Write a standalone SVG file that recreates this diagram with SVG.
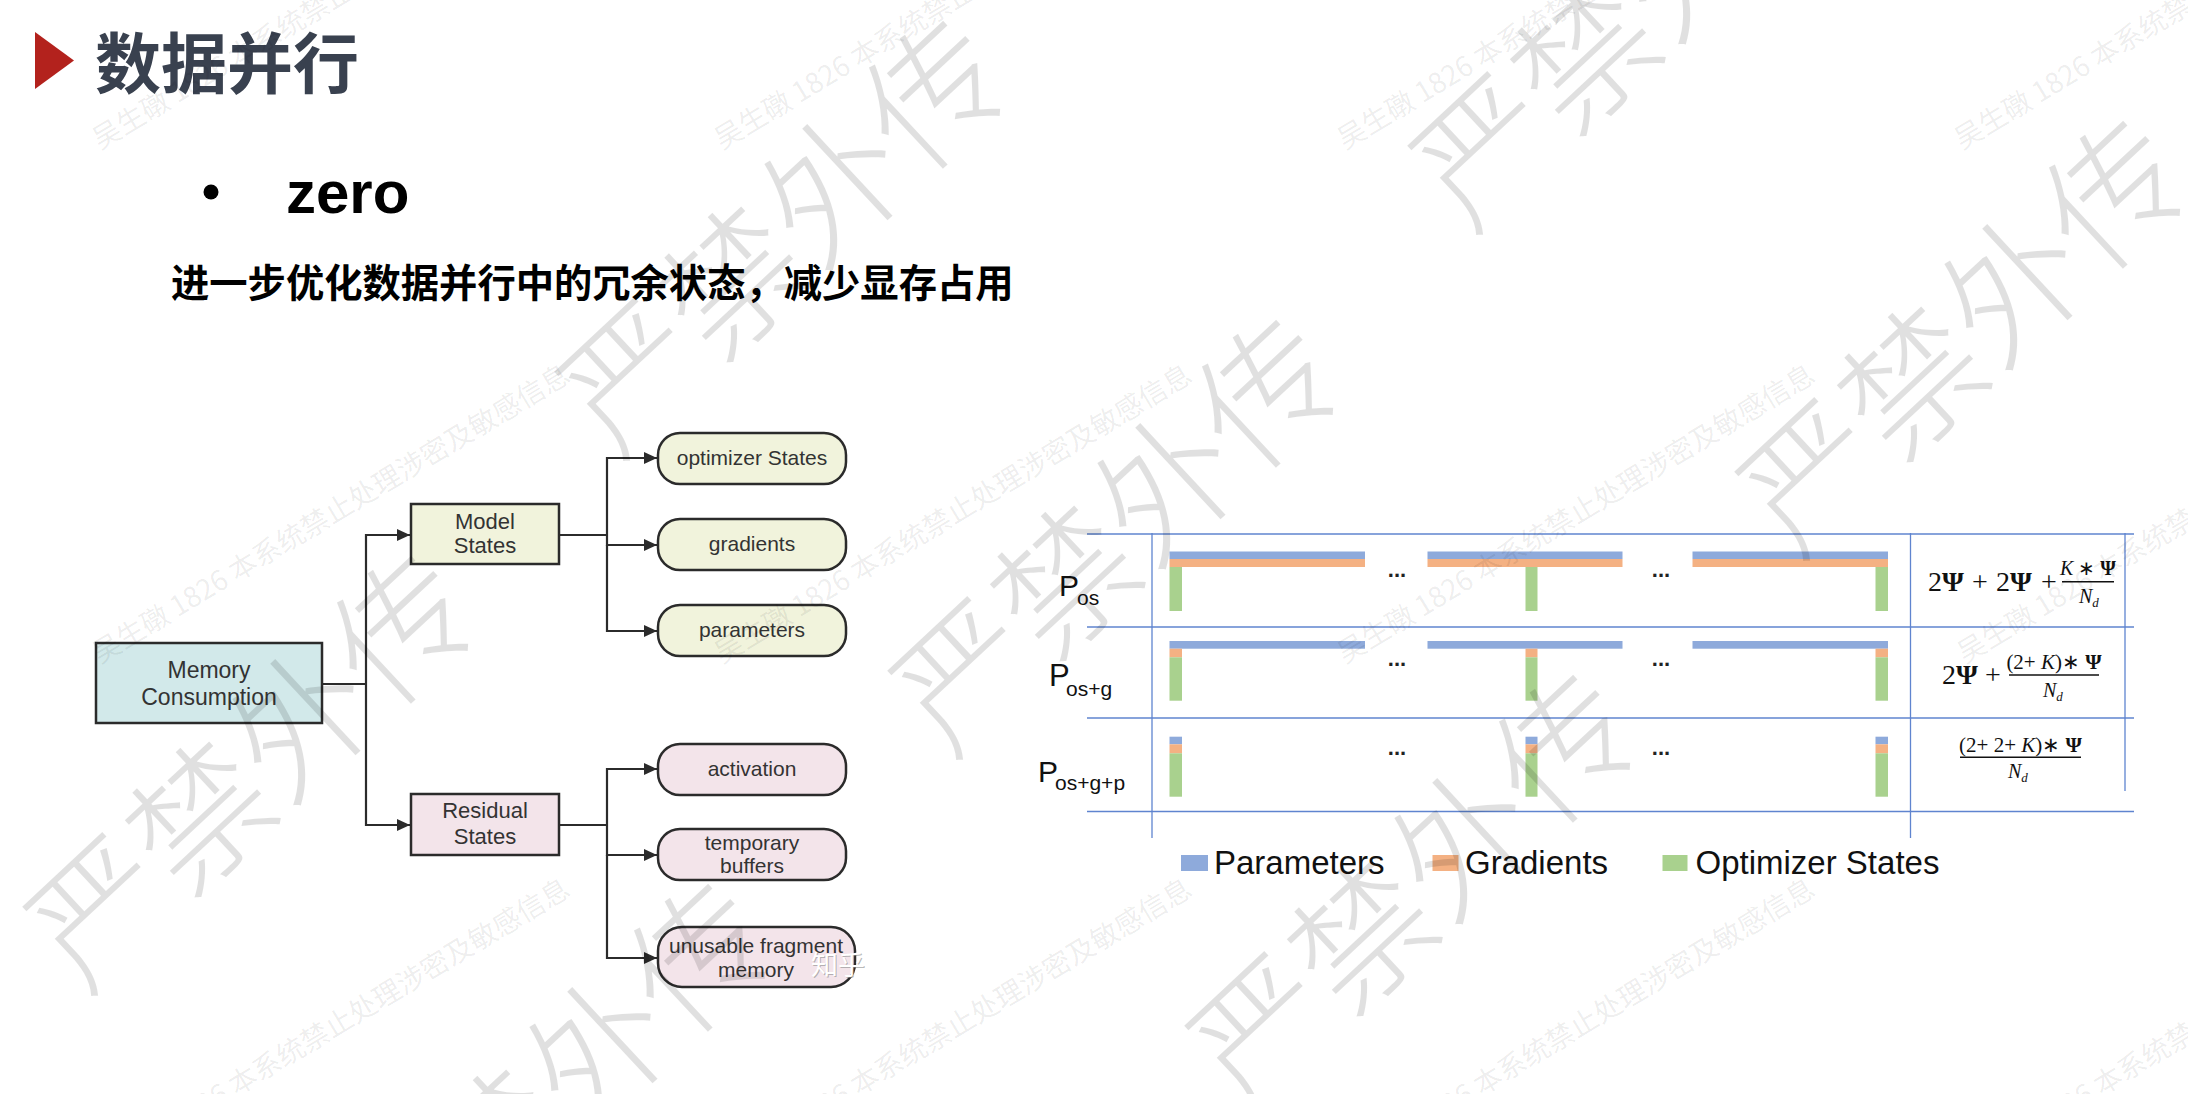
<svg xmlns="http://www.w3.org/2000/svg" width="2188" height="1094" viewBox="0 0 2188 1094">
  <defs>
    <marker id="arrow" markerUnits="userSpaceOnUse" markerWidth="13" markerHeight="12" refX="13" refY="6" orient="auto">
      <path d="M0,0 L13,6 L0,12 z" fill="#2b2b2b"/>
    </marker>
    <style>
      .cjk { font-family: "Noto Sans CJK SC", "Noto Sans", sans-serif; }
      .node rect { stroke: #2b2b2b; stroke-width: 2.5; }
      .lbl { font-family: "Liberation Sans", Arial, sans-serif; fill: #333; text-anchor: middle; }
      .conn path { fill: none; stroke: #2b2b2b; stroke-width: 2.2; }
      .grid line { stroke: #5f84cf; stroke-width: 1.3; }
      .par { fill: #8eaadb; }
      .grd { fill: #f4b183; }
      .opt { fill: #a9d18e; }
      .plab { font-family: "Liberation Sans", Arial, sans-serif; fill: #111; }
      .dots { font-family: "Liberation Sans", Arial, sans-serif; font-weight: bold; font-size: 22px; fill: #222; text-anchor: middle; }
      .math { font-family: "Liberation Serif", "Times New Roman", serif; fill: #111; }
      .leg { font-family: "Liberation Sans", Arial, sans-serif; font-size: 33px; fill: #111; }
      .wm-big { font-family: "Noto Sans CJK SC", sans-serif; font-size: 138px; font-weight: 200; fill: #000; fill-opacity: 0.12; }
      .wm-small { font-family: "Noto Sans CJK SC", sans-serif; font-size: 28px; fill: #000; fill-opacity: 0.08; }
    </style>
  </defs>

  <rect width="2188" height="1094" fill="#ffffff"/>

  <!-- heading -->
  <g id="heading">
    <polygon points="35,32 74,60.5 35,89" fill="#b3221d"/>
    <text class="cjk" x="95" y="88" font-size="66" font-weight="bold" fill="#39414f">数据并行</text>
    <circle cx="211" cy="192" r="7.5" fill="#000"/>
    <text x="286" y="213" font-family="Liberation Sans, Arial, sans-serif" font-size="60" font-weight="bold" fill="#000">zero</text>
    <text class="cjk" x="171" y="297" font-size="38.3" font-weight="bold" fill="#000">进一步优化数据并行中的冗余状态，减少显存占用</text>
  </g>

  <!-- memory tree: connectors -->
  <g id="connectors" class="conn">
    <path d="M322,684 H366"/>
    <path d="M366,684 V535 H410" marker-end="url(#arrow)"/>
    <path d="M366,684 V825 H410" marker-end="url(#arrow)"/>
    <path d="M559,535 H607"/>
    <path d="M607,535 V458 H657" marker-end="url(#arrow)"/>
    <path d="M607,535 V545 H657" marker-end="url(#arrow)"/>
    <path d="M607,545 V631 H657" marker-end="url(#arrow)"/>
    <path d="M559,825 H607"/>
    <path d="M607,825 V769 H657" marker-end="url(#arrow)"/>
    <path d="M607,825 V855 H657" marker-end="url(#arrow)"/>
    <path d="M607,855 V958 H657" marker-end="url(#arrow)"/>
  </g>

  <!-- memory tree: nodes -->
  <g id="memory-consumption" class="node">
    <rect x="96" y="643" width="226" height="80" fill="#d2e9ea"/>
    <text class="lbl" x="209" y="678" font-size="23">Memory</text>
    <text class="lbl" x="209" y="705" font-size="23">Consumption</text>
  </g>
  <g id="model-states" class="node">
    <rect x="411" y="504" width="148" height="60" fill="#f1f3dc"/>
    <text class="lbl" x="485" y="529" font-size="22">Model</text>
    <text class="lbl" x="485" y="553" font-size="22">States</text>
  </g>
  <g id="residual-states" class="node">
    <rect x="411" y="794" width="148" height="61" fill="#f3e4ea"/>
    <text class="lbl" x="485" y="818" font-size="22">Residual</text>
    <text class="lbl" x="485" y="844" font-size="22">States</text>
  </g>
  <g id="optimizer-states" class="node">
    <rect x="658" y="433" width="188" height="51" rx="22" fill="#f1f3dc"/>
    <text class="lbl" x="752" y="465" font-size="21">optimizer States</text>
  </g>
  <g id="gradients" class="node">
    <rect x="658" y="519" width="188" height="51" rx="22" fill="#f1f3dc"/>
    <text class="lbl" x="752" y="551" font-size="21">gradients</text>
  </g>
  <g id="parameters" class="node">
    <rect x="658" y="605" width="188" height="51" rx="22" fill="#f1f3dc"/>
    <text class="lbl" x="752" y="637" font-size="21">parameters</text>
  </g>
  <g id="activation" class="node">
    <rect x="658" y="744" width="188" height="51" rx="22" fill="#f3e4ea"/>
    <text class="lbl" x="752" y="776" font-size="21">activation</text>
  </g>
  <g id="temporary-buffers" class="node">
    <rect x="658" y="829" width="188" height="51" rx="22" fill="#f3e4ea"/>
    <text class="lbl" x="752" y="850" font-size="21">temporary</text>
    <text class="lbl" x="752" y="873" font-size="21">buffers</text>
  </g>
  <g id="unusable-fragment-memory" class="node">
    <rect x="658" y="927" width="197" height="60" rx="24" fill="#f3e4ea"/>
    <text class="lbl" x="756" y="953" font-size="21">unusable fragment</text>
    <text class="lbl" x="756" y="977" font-size="21">memory</text>
  </g>
  <g id="zhihu-mark">
    <text class="cjk" x="838" y="975" font-size="27" text-anchor="middle" fill="#8a8a8a" fill-opacity="0.6" transform="translate(1,1)">知乎</text>
    <text class="cjk" x="838" y="975" font-size="27" text-anchor="middle" fill="#ffffff">知乎</text>
  </g>

  <!-- ZeRO partition table -->
  <g id="table-grid" class="grid">
    <line x1="1087" y1="534" x2="2134" y2="534"/>
    <line x1="1087" y1="627" x2="2134" y2="627"/>
    <line x1="1087" y1="718" x2="2134" y2="718"/>
    <line x1="1087" y1="811.5" x2="2134" y2="811.5"/>
    <line x1="1152" y1="533" x2="1152" y2="838"/>
    <line x1="1910.5" y1="533" x2="1910.5" y2="838"/>
    <line x1="2125" y1="533" x2="2125" y2="791"/>
  </g>

  <g id="row-pos">
    <text class="plab" x="1059" y="596" font-size="30">P</text>
    <text class="plab" x="1077" y="605" font-size="21">os</text>
    <rect class="par" x="1169.5" y="551.5" width="195.5" height="7.5"/>
    <rect class="grd" x="1169.5" y="559" width="195.5" height="8"/>
    <rect class="par" x="1427.5" y="551.5" width="195" height="7.5"/>
    <rect class="grd" x="1427.5" y="559" width="195" height="8"/>
    <rect class="par" x="1692.5" y="551.5" width="195.5" height="7.5"/>
    <rect class="grd" x="1692.5" y="559" width="195.5" height="8"/>
    <rect class="opt" x="1169.5" y="567" width="12.5" height="44"/>
    <rect class="opt" x="1525.5" y="567" width="12" height="44"/>
    <rect class="opt" x="1875.5" y="567" width="12.5" height="44"/>
    <text class="dots" x="1397" y="577">...</text>
    <text class="dots" x="1661" y="577">...</text>
  </g>

  <g id="row-pos-g">
    <text class="plab" x="1049" y="686" font-size="31">P</text>
    <text class="plab" x="1066" y="696" font-size="21">os+g</text>
    <rect class="par" x="1169.5" y="641" width="195.5" height="7.7"/>
    <rect class="par" x="1427.5" y="641" width="195" height="7.7"/>
    <rect class="par" x="1692.5" y="641" width="195.5" height="7.7"/>
    <rect class="grd" x="1169.5" y="648.7" width="12.5" height="8.6"/>
    <rect class="grd" x="1525.5" y="648.7" width="12" height="8.6"/>
    <rect class="grd" x="1875.5" y="648.7" width="12.5" height="8.6"/>
    <rect class="opt" x="1169.5" y="657.3" width="12.5" height="43.4"/>
    <rect class="opt" x="1525.5" y="657.3" width="12" height="43.4"/>
    <rect class="opt" x="1875.5" y="657.3" width="12.5" height="43.4"/>
    <text class="dots" x="1397" y="666">...</text>
    <text class="dots" x="1661" y="666">...</text>
  </g>

  <g id="row-pos-g-p">
    <text class="plab" x="1038" y="782" font-size="30">P</text>
    <text class="plab" x="1055" y="790" font-size="21">os+g+p</text>
    <rect class="par" x="1169.5" y="736.7" width="12.5" height="7.6"/>
    <rect class="par" x="1525.5" y="736.7" width="12" height="7.6"/>
    <rect class="par" x="1875.5" y="736.7" width="12.5" height="7.6"/>
    <rect class="grd" x="1169.5" y="744.3" width="12.5" height="9"/>
    <rect class="grd" x="1525.5" y="744.3" width="12" height="9"/>
    <rect class="grd" x="1875.5" y="744.3" width="12.5" height="9"/>
    <rect class="opt" x="1169.5" y="753.3" width="12.5" height="43.4"/>
    <rect class="opt" x="1525.5" y="753.3" width="12" height="43.4"/>
    <rect class="opt" x="1875.5" y="753.3" width="12.5" height="43.4"/>
    <text class="dots" x="1397" y="755">...</text>
    <text class="dots" x="1661" y="755">...</text>
  </g>

  <!-- memory formulas -->
  <g id="formula-pos" class="math">
    <text x="1928" y="591" font-size="28">2<tspan font-weight="bold">Ψ</tspan></text>
    <text x="1972" y="591" font-size="28">+</text>
    <text x="1996" y="591" font-size="28">2<tspan font-weight="bold">Ψ</tspan></text>
    <text x="2041" y="591" font-size="28">+</text>
    <text x="2088" y="575" font-size="20" text-anchor="middle"><tspan font-style="italic">K</tspan> ∗ <tspan font-weight="bold">Ψ</tspan></text>
    <line x1="2062" y1="581.7" x2="2114" y2="581.7" stroke="#111" stroke-width="1.6"/>
    <text x="2079" y="603" font-size="20" font-style="italic">N<tspan font-size="13" dy="4">d</tspan></text>
  </g>
  <g id="formula-pos-g" class="math">
    <text x="1942" y="684" font-size="28">2<tspan font-weight="bold">Ψ</tspan></text>
    <text x="1985" y="684" font-size="28">+</text>
    <text x="2054" y="669" font-size="21" text-anchor="middle">(2+ <tspan font-style="italic">K</tspan>)∗ <tspan font-weight="bold">Ψ</tspan></text>
    <line x1="2009" y1="675" x2="2099" y2="675" stroke="#111" stroke-width="1.6"/>
    <text x="2043" y="697" font-size="20" font-style="italic">N<tspan font-size="13" dy="4">d</tspan></text>
  </g>
  <g id="formula-pos-g-p" class="math">
    <text x="2020.5" y="752" font-size="21" text-anchor="middle">(2+ 2+ <tspan font-style="italic">K</tspan>)∗ <tspan font-weight="bold">Ψ</tspan></text>
    <line x1="1960" y1="757.3" x2="2081" y2="757.3" stroke="#111" stroke-width="1.6"/>
    <text x="2008" y="778" font-size="20" font-style="italic">N<tspan font-size="13" dy="4">d</tspan></text>
  </g>

  <!-- legend -->
  <g id="legend">
    <rect class="par" x="1181" y="855" width="27" height="16"/>
    <text class="leg" x="1214" y="874">Parameters</text>
    <rect class="grd" x="1432.5" y="855" width="26" height="16"/>
    <text class="leg" x="1465" y="874">Gradients</text>
    <rect class="opt" x="1662.5" y="855" width="25" height="16"/>
    <text class="leg" x="1695.5" y="874">Optimizer States</text>
  </g>

  <!-- overlay watermark -->
  <g id="watermark-small" class="wm-small">
    <text transform="translate(100,150) rotate(-31)">吴生礅 1826 本系统禁止处理涉密及敏感信息</text>
    <text transform="translate(722,150) rotate(-31)">吴生礅 1826 本系统禁止处理涉密及敏感信息</text>
    <text transform="translate(1345,150) rotate(-31)">吴生礅 1826 本系统禁止处理涉密及敏感信息</text>
    <text transform="translate(1962,150) rotate(-31)">吴生礅 1826 本系统禁止处理涉密及敏感信息</text>
    <text transform="translate(100,664) rotate(-31)">吴生礅 1826 本系统禁止处理涉密及敏感信息</text>
    <text transform="translate(722,664) rotate(-31)">吴生礅 1826 本系统禁止处理涉密及敏感信息</text>
    <text transform="translate(1345,664) rotate(-31)">吴生礅 1826 本系统禁止处理涉密及敏感信息</text>
    <text transform="translate(1965,664) rotate(-31)">吴生礅 1826 本系统禁止处理涉密及敏感信息</text>
    <text transform="translate(100,1178) rotate(-31)">吴生礅 1826 本系统禁止处理涉密及敏感信息</text>
    <text transform="translate(722,1178) rotate(-31)">吴生礅 1826 本系统禁止处理涉密及敏感信息</text>
    <text transform="translate(1345,1178) rotate(-31)">吴生礅 1826 本系统禁止处理涉密及敏感信息</text>
    <text transform="translate(1965,1178) rotate(-31)">吴生礅 1826 本系统禁止处理涉密及敏感信息</text>
  </g>
  <g id="watermark-big" class="wm-big">
    <text transform="translate(616,460) rotate(-43)">严禁外传</text>
    <text transform="translate(1469,234) rotate(-43)">严禁外传</text>
    <text transform="translate(1796,560) rotate(-43)">严禁外传</text>
    <text transform="translate(949,759) rotate(-43)">严禁外传</text>
    <text transform="translate(84,995) rotate(-43)">严禁外传</text>
    <text transform="translate(381,1323) rotate(-43)">严禁外传</text>
    <text transform="translate(1246,1114) rotate(-43)">严禁外传</text>
  </g>
</svg>
